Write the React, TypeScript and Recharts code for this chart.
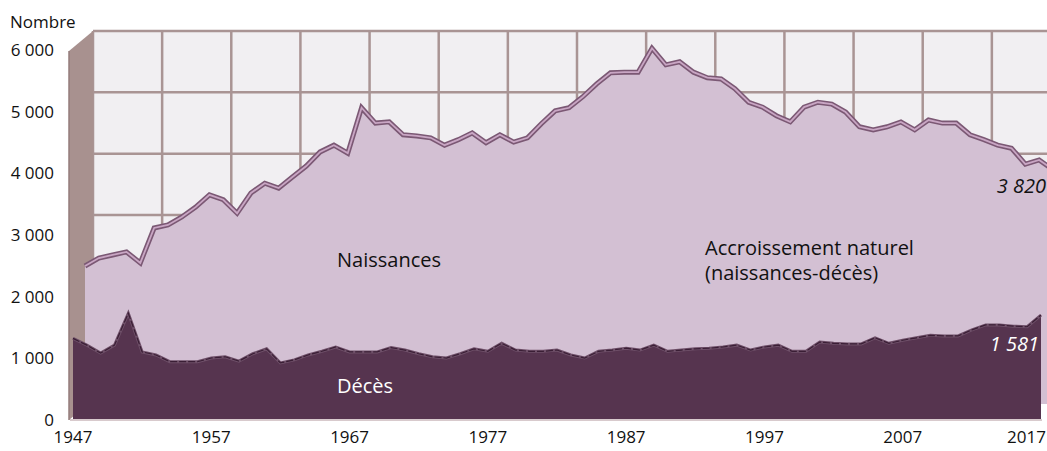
import React from 'react';
import { AreaChart, Area, Line, XAxis, YAxis, CartesianGrid } from 'recharts';

const years = [
  1947, 1948, 1949, 1950, 1951, 1952, 1953, 1954, 1955, 1956,
  1957, 1958, 1959, 1960, 1961, 1962, 1963, 1964, 1965, 1966,
  1967, 1968, 1969, 1970, 1971, 1972, 1973, 1974, 1975, 1976,
  1977, 1978, 1979, 1980, 1981, 1982, 1983, 1984, 1985, 1986,
  1987, 1988, 1989, 1990, 1991, 1992, 1993, 1994, 1995, 1996,
  1997, 1998, 1999, 2000, 2001, 2002, 2003, 2004, 2005, 2006,
  2007, 2008, 2009, 2010, 2011, 2012, 2013, 2014, 2015, 2016,
  2017,
];

const naissances = [
  2250, 2380, 2430, 2480, 2300, 2870, 2920, 3050, 3210, 3410,
  3330, 3110, 3440, 3600, 3520, 3700, 3880, 4110, 4220, 4090,
  4830, 4580, 4600, 4390, 4370, 4340, 4220, 4310, 4420, 4260,
  4390, 4270, 4340, 4570, 4780, 4830, 5010, 5220, 5400, 5410,
  5410, 5800, 5530, 5580, 5410, 5320, 5300, 5140, 4920, 4840,
  4700, 4600, 4840, 4920, 4890, 4760, 4520, 4470, 4520, 4600,
  4470, 4630, 4580, 4580, 4390, 4310, 4220, 4170, 3910, 3980,
  3820,
];

const deces = [
  1200, 1090, 960, 1090, 1610, 980, 930, 820, 820, 820,
  880, 900, 830, 950, 1030, 800, 850, 930, 990, 1060,
  980, 980, 980, 1050, 1010, 950, 900, 880, 950, 1030,
  990, 1120, 1010, 990, 990, 1010, 930, 880, 990, 1010,
  1040, 1010, 1090, 990, 1010, 1030, 1040, 1060, 1090, 1010,
  1060, 1090, 990, 990, 1140, 1120, 1110, 1110, 1210, 1120,
  1170, 1210, 1250, 1240, 1240, 1340, 1420, 1420, 1400, 1390,
  1581,
];

const yTicks = [0, 1000, 2000, 3000, 4000, 5000, 6000];
const xTicks = [1947, 1957, 1967, 1977, 1987, 1997, 2007, 2017];
const gridYears = [1947, 1952, 1957, 1962, 1967, 1972, 1977, 1982, 1987, 1992, 1997, 2002, 2007, 2012, 2017];

const data = years.map((year, i) => ({ year, naissances: naissances[i], deces: deces[i] }));

const fmt = (v: number) => String(v).replace(/\B(?=(\d{3})+(?!\d))/g, ' ');

const W = 1100;
const H = 451;
const layer: React.CSSProperties = { position: 'absolute', left: 0, top: 0 };

const XTick = (props: any) => {
  const { x, y, payload } = props;
  const last = payload.value === xTicks[xTicks.length - 1];
  return (
    <text x={last ? x + 5 : x} y={y} dy="0.71em" textAnchor={last ? 'end' : 'middle'} fill="#111" fontSize={17}>
      {payload.value}
    </text>
  );
};

export default function App() {
  document.body.style.margin = '0';
  const lastN = naissances[naissances.length - 1];
  const lastD = deces[deces.length - 1];

  return (
    <div style={{ position: 'relative', width: 1047, height: H, overflow: 'hidden', background: '#fff', fontFamily: '"Open Sans", sans-serif' }}>
      {/* back wall with grid */}
      <div style={layer}>
        <AreaChart width={W} height={H} data={data} margin={{ top: 31, right: 39, bottom: 52, left: 93 }}>
          <CartesianGrid stroke="#a99494" strokeWidth={2.5} fill="#f1eff2" fillOpacity={1} />
          <XAxis dataKey="year" type="number" domain={[1947, 2017]} ticks={gridYears} interval={0} hide />
          <YAxis dataKey="naissances" type="number" domain={[0, 6000]} ticks={yTicks} interval={0} hide />
          <Area dataKey="naissances" stroke="none" fill="none" isAnimationActive={false} />
        </AreaChart>
      </div>

      {/* left wall */}
      <svg width={1047} height={H} style={layer}>
        <polygon points="69,51 93,31 93,400 69,420" fill="#a8918f" />
        <line x1={69} y1={51} x2={69} y2={420} stroke="#957d7b" strokeWidth={1.5} />
      </svg>

      {/* births */}
      <div style={layer}>
        <AreaChart width={W} height={H} data={data} margin={{ top: 36, right: 47, bottom: 47, left: 85 }}>
          <XAxis dataKey="year" type="number" domain={[1947, 2017]} hide />
          <YAxis type="number" domain={[0, 6000]} hide />
          <Area type="linear" dataKey="naissances" stroke="#7b5874" strokeWidth={5} fill="#d3c0d3" fillOpacity={1} isAnimationActive={false} />
          <Line type="linear" dataKey="naissances" stroke="#c9a6c4" strokeWidth={1.8} dot={false} isAnimationActive={false} />
        </AreaChart>
      </div>

      {/* deaths */}
      <div style={layer}>
        <AreaChart width={W} height={H} data={data} margin={{ top: 44, right: 59, bottom: 39, left: 73 }}>
          <XAxis dataKey="year" type="number" domain={[1947, 2017]} hide />
          <YAxis type="number" domain={[0, 6000]} hide />
          <Area type="linear" dataKey="deces" stroke="#6f5069" strokeWidth={3} fill="#56344f" fillOpacity={1} isAnimationActive={false} />
          <Line type="linear" dataKey="deces" stroke="#3a1e35" strokeWidth={1.2} strokeDasharray="7 2" dot={false} isAnimationActive={false} />
        </AreaChart>
      </div>
      <div style={{ position: 'absolute', left: 73, top: 412, width: 968, height: 7, background: '#56344f' }} />
      <div style={{ position: 'absolute', left: 70, top: 419, width: 972, height: 2, background: '#d8cacd' }} />

      {/* axes */}
      <div style={layer}>
        <AreaChart width={W} height={H} data={data} margin={{ top: 50, right: 59, bottom: 0, left: 0 }}>
          <XAxis dataKey="year" type="number" domain={[1947, 2017]} ticks={xTicks} height={31}
            axisLine={false} tickLine={false} tickSize={0} tickMargin={11} tick={<XTick />} interval={0} />
          <YAxis dataKey="deces" type="number" domain={[0, 6000]} ticks={yTicks} width={73} axisLine={false} tickLine={false} tickSize={0}
            tickMargin={19} tickFormatter={fmt} tick={{ fill: '#111', fontSize: 17 }} interval={0} />
          <Area dataKey="deces" stroke="none" fill="none" isAnimationActive={false} />
        </AreaChart>
      </div>

      {/* labels */}
      <svg width={1047} height={H} style={layer} fontFamily='"Open Sans", sans-serif'>
        <text x={10} y={21} dominantBaseline="central" fontSize={17} fill="#111">Nombre</text>
        <text x={337} y={259} dominantBaseline="central" fontSize={20} fill="#111">Naissances</text>
        <text x={337} y={385} dominantBaseline="central" fontSize={20} fill="#fff">Décès</text>
        <text x={705} y={247} dominantBaseline="central" fontSize={20} fill="#111">Accroissement naturel</text>
        <text x={705} y={272} dominantBaseline="central" fontSize={20} fill="#111">(naissances-décès)</text>
        <text x={1046} y={185} dominantBaseline="central" textAnchor="end" fontSize={20} fontStyle="italic" fill="#111">{fmt(lastN)}</text>
        <text x={1039} y={343} dominantBaseline="central" textAnchor="end" fontSize={20} fontStyle="italic" fill="#fff">{fmt(lastD)}</text>
      </svg>
    </div>
  );
}
